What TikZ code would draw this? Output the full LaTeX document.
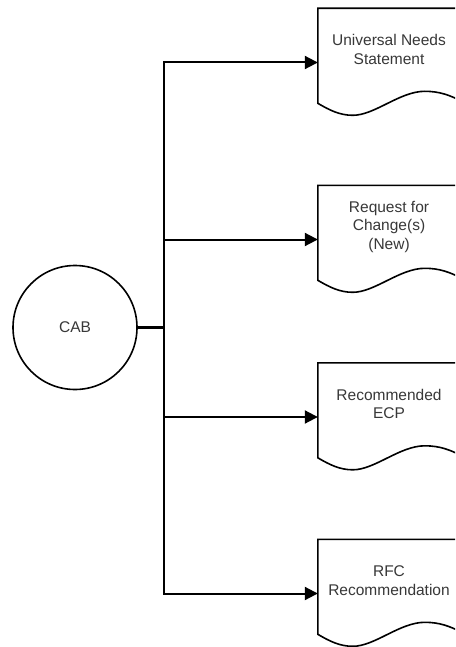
\documentclass[tikz,border=0pt]{standalone}
\usepackage{fontspec}
\setmainfont{Liberation Sans}
\usetikzlibrary{arrows.meta}
\tikzset{
  flow/.style={line width=2pt, -{Triangle[length=13pt,width=13pt]}},
  feed/.style={line width=3pt},
  docframe/.style={minimum width=142pt, minimum height=108pt, inner sep=0pt},
  doctext/.style={align=center, font=\fontsize{15.5}{18.5}\selectfont, text=black!78},
  docline/.style={line width=1.6pt, fill=white},
  board/.style={circle, draw, line width=1.6pt, minimum size=124pt, inner sep=0pt,
    font=\fontsize{15.5}{18.5}\selectfont, text=black!78},
}
% document outline with a wavy lower edge, drawn from the frame's top-left corner
\newcommand\docshape[1]{%
  \begin{scope}[shift={(#1.north west)}]
    \draw[docline] (0,95) -- (0,0) -- (144,0) -- (144,93)
      .. controls (132,87) and (122,83) .. (107,83)
      .. controls (82,83) and (57,107) .. (35,107)
      .. controls (22,107) and (12,102) .. cycle;
  \end{scope}}
\begin{document}
\begin{tikzpicture}[x=1pt, y=-1pt]
  \clip (0,0) rectangle (455,647);
  \fill[white] (0,0) rectangle (455,647);

  % document frames (invisible nodes that carry the anchors)
  \node[docframe] (d1) at (389,62.5) {};
  \node[docframe] (d2) at (389,239.5) {};
  \node[docframe] (d3) at (389,417) {};
  \node[docframe] (d4) at (389,593.5) {};

  \docshape{d1}
  \docshape{d2}
  \docshape{d3}
  \docshape{d4}

  \node[doctext] (t1) at ([yshift=13pt]d1.center) {Universal Needs\\Statement};
  \node[doctext] (t2) at ([yshift=13pt]d2.center) {Request for\\Change(s)\\(New)};
  \node[doctext] (t3) at ([yshift=13pt]d3.center) {Recommended\\ECP};
  \node[doctext] (t4) at ([yshift=13pt]d4.center) {RFC\\Recommendation};

  % the board
  \node[board] (cab) at (75,327.5) {CAB};
  \coordinate (j) at (164,327.5);

  \draw[feed] (cab.east) -- (j);
  \draw[flow] (j) |- (d1.west);
  \draw[flow] (j) |- (d2.west);
  \draw[flow] (j) |- (d3.west);
  \draw[flow] (j) |- (d4.west);
\end{tikzpicture}
\end{document}
